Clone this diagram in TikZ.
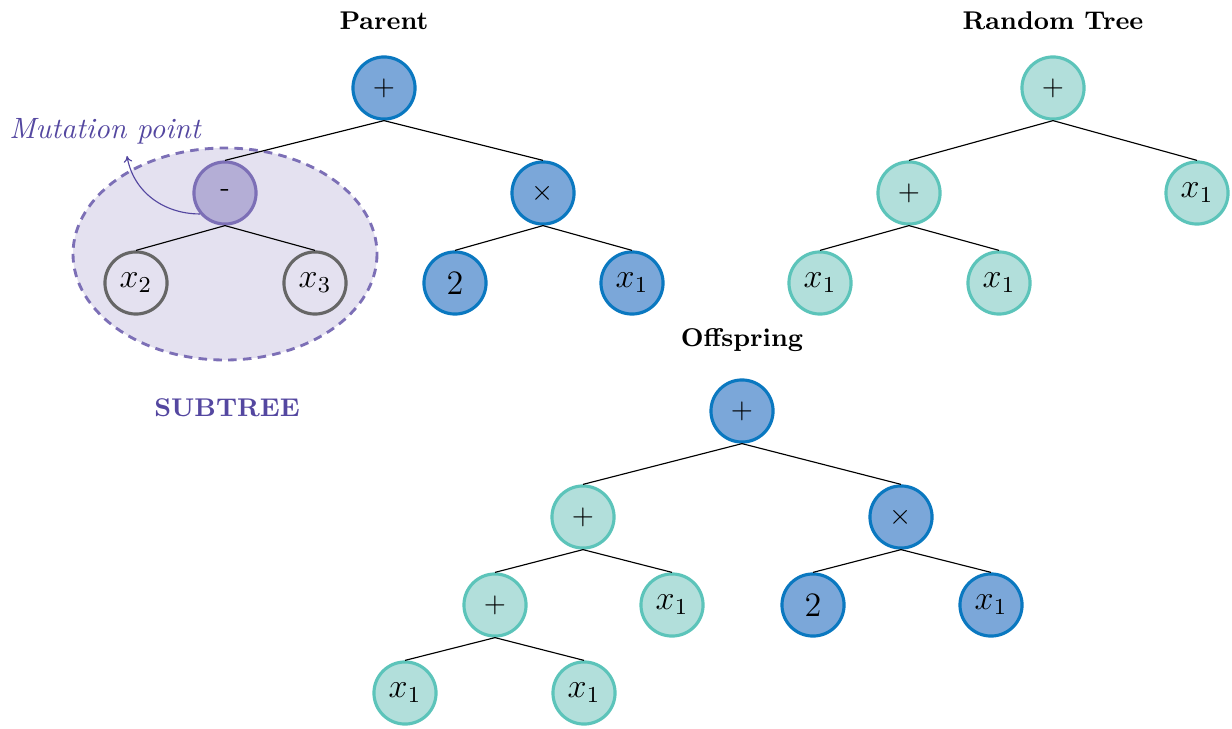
\documentclass[tikz,border=0pt]{standalone}
\usetikzlibrary{arrows.meta}
\definecolor{opblue}{HTML}{7BA7D9}
\definecolor{opblueline}{HTML}{0A78C0}
\definecolor{rndfill}{HTML}{B2DFDB}
\definecolor{rndline}{HTML}{5CC4BA}
\definecolor{mutfill}{HTML}{B4AED6}
\definecolor{mutline}{HTML}{7C6FB6}
\definecolor{subfill}{HTML}{E4E1F0}
\definecolor{subtext}{HTML}{5447A0}
\definecolor{grayline}{HTML}{666666}
\tikzset{
  tnode/.style={circle, minimum size=21.8pt, inner sep=0pt, line width=1.1pt},
  pnode/.style={tnode, draw=opblueline, fill=opblue},
  rnode/.style={tnode, draw=rndline, fill=rndfill},
  mnode/.style={tnode, draw=mutline, fill=mutfill},
  gnode/.style={tnode, draw=grayline},
  leaf/.style={font=\large},
  title/.style={font=\small\bfseries},
  branch/.style={draw=black, line width=0.4pt},
  mutarrow/.style={draw=subtext, line width=0.4pt, -{To[length=2.2pt,width=3pt]}},
}
\begin{document}
\begin{tikzpicture}[x=0.351pt, y=-0.351pt]
\useasboundingbox (0,0) rectangle (1232,728);

% ---- subtree region ----
\draw[mutline, fill=subfill, dashed, line width=1pt, dash pattern=on 3pt off 2.2pt]
  (225,254) ellipse [x radius=152, y radius=106];

% ---- parent tree ----
\node[title] (tparent) at (384,21) {Parent};
\node[pnode] (p0) at (384,88) {$+$};
\node[mnode] (p1) at (225,193) {-};
\node[pnode] (p2) at (543,193) {$\times$};
\node[gnode, leaf] (p11) at (136,283) {$x_2$};
\node[gnode, leaf] (p12) at (315,283) {$x_3$};
\node[pnode, leaf] (p21) at (455,283) {$2$};
\node[pnode, leaf] (p22) at (632,283) {$x_1$};
\foreach \a/\b in {p0/p1,p0/p2,p1/p11,p1/p12,p2/p21,p2/p22}
  \draw[branch] (\a.south) -- (\b.north);

\node[text=subtext, font=\fontsize{10.3}{12}\selectfont\itshape] (mutlabel) at (105,131) {Mutation point};
\coordinate (mutend) at (127,156);
\draw[mutarrow] (p1.220) to[out=180, in=-80] (mutend);
\node[text=subtext, font=\small\bfseries] (sublabel) at (227,408) {SUBTREE};

% ---- random tree ----
\node[title] (trandom) at (1053,21) {Random Tree};
\node[rnode] (r0) at (1053,88) {$+$};
\node[rnode] (r1) at (909,193) {$+$};
\node[rnode, leaf] (r2) at (1197,193) {$x_1$};
\node[rnode, leaf] (r11) at (820,283) {$x_1$};
\node[rnode, leaf] (r12) at (999,283) {$x_1$};
\foreach \a/\b in {r0/r1,r0/r2,r1/r11,r1/r12}
  \draw[branch] (\a.south) -- (\b.north);

% ---- offspring ----
\node[title] (toff) at (742,340) {Offspring};
\node[pnode] (o0) at (742,411) {$+$};
\node[rnode] (o1) at (583,517) {$+$};
\node[pnode] (o2) at (901,517) {$\times$};
\node[rnode] (o11) at (495,605) {$+$};
\node[rnode, leaf] (o12) at (672,605) {$x_1$};
\node[pnode, leaf] (o21) at (813,605) {$2$};
\node[pnode, leaf] (o22) at (991,605) {$x_1$};
\node[rnode, leaf] (o111) at (405,693) {$x_1$};
\node[rnode, leaf] (o112) at (584,693) {$x_1$};
\foreach \a/\b in {o0/o1,o0/o2,o1/o11,o1/o12,o2/o21,o2/o22,o11/o111,o11/o112}
  \draw[branch] (\a.south) -- (\b.north);
\end{tikzpicture}
\end{document}
